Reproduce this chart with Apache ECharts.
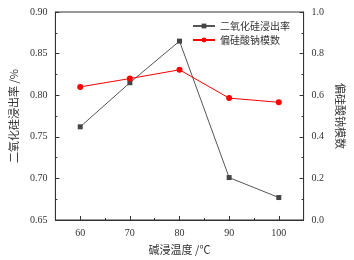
<!DOCTYPE html>
<html>
<head>
<meta charset="utf-8">
<script src="https://cdn.jsdelivr.net/npm/echarts@6/dist/echarts.min.js"></script>
<style>
  html, body { margin: 0; padding: 0; background: #fff; }
  #chart { width: 354px; height: 260px; }
</style>
</head>
<body>
<div id="chart"></div>
<script>
// data
const temps = [60, 70, 80, 90, 100];
const leachRate = [0.762, 0.815, 0.865, 0.701, 0.677];
const modulus = [0.64, 0.68, 0.722, 0.586, 0.566];
const majorTicks = [60, 70, 80, 90, 100];
const minorTicks = [65, 75, 85, 95];

const serif = '"Liberation Serif", "Noto Sans CJK SC", serif';
const axisColor = '#333';

const chart = echarts.init(document.getElementById('chart'));

chart.setOption({
  animation: false,
  grid: {
    left: 49, right: 42, top: 12, bottom: 36,
    show: true, borderColor: axisColor, borderWidth: 1
  },
  legend: {
    top: 16, left: 187, orient: 'vertical', itemGap: 4,
    itemWidth: 22, itemHeight: 6,
    textStyle: { fontFamily: '"Noto Sans CJK SC"', fontSize: 10, color: '#333' },
    data: ['二氧化硅浸出率', '偏硅酸钠模数']
  },
  xAxis: [
    {
      type: 'value', min: 55, max: 105, interval: 5,
      name: '碱浸温度 /℃', nameLocation: 'middle', nameGap: 24,
      nameTextStyle: { fontFamily: '"Noto Sans CJK SC"', fontSize: 11, color: '#333' },
      axisLine: { lineStyle: { color: axisColor } },
      axisTick: { inside: true, length: 4, customValues: majorTicks, lineStyle: { color: axisColor } },
      axisLabel: { customValues: majorTicks, fontFamily: serif, fontSize: 10, color: '#333', margin: 8 },
      splitLine: { show: false }
    },
    {
      type: 'value', min: 55, max: 105, position: 'bottom',
      axisLine: { show: false },
      axisTick: { inside: true, length: 2, customValues: minorTicks, lineStyle: { color: axisColor } },
      axisLabel: { show: false },
      splitLine: { show: false }
    }
  ],
  yAxis: [
    {
      type: 'value', min: 0.65, max: 0.9, interval: 0.05,
      name: '二氧化硅浸出率 /%', nameLocation: 'middle', nameGap: 34,
      nameTextStyle: { fontFamily: '"Noto Sans CJK SC"', fontSize: 11, color: '#333' },
      axisLine: { show: true, lineStyle: { color: axisColor } },
      axisTick: { inside: true, length: 4, lineStyle: { color: axisColor } },
      minorTick: { show: true, splitNumber: 2, length: 2, lineStyle: { color: axisColor } },
      axisLabel: { fontFamily: serif, fontSize: 10, color: '#333', formatter: v => v.toFixed(2) },
      splitLine: { show: false }
    },
    {
      type: 'value', min: 0, max: 1, interval: 0.2, position: 'right',
      name: '偏硅酸钠模数', nameLocation: 'middle', nameGap: 22, nameRotate: 270,
      nameTextStyle: { fontFamily: '"Noto Sans CJK SC"', fontSize: 11, color: '#333' },
      axisLine: { show: true, lineStyle: { color: axisColor } },
      axisTick: { inside: true, length: 4, lineStyle: { color: axisColor } },
      minorTick: { show: true, splitNumber: 2, length: 2, lineStyle: { color: axisColor } },
      axisLabel: { fontFamily: serif, fontSize: 10, color: '#333', formatter: v => v.toFixed(1) },
      splitLine: { show: false }
    }
  ],
  series: [
    {
      name: '二氧化硅浸出率', type: 'line', yAxisIndex: 0,
      data: temps.map((t, i) => [t, leachRate[i]]),
      symbol: 'rect', symbolSize: 5,
      itemStyle: { color: '#444' },
      lineStyle: { color: '#555', width: 1 }
    },
    {
      name: '偏硅酸钠模数', type: 'line', yAxisIndex: 1,
      data: temps.map((t, i) => [t, modulus[i]]),
      symbol: 'circle', symbolSize: 6,
      itemStyle: { color: '#ff0000' },
      lineStyle: { color: '#ff0000', width: 1 }
    }
  ]
});
</script>
</body>
</html>
